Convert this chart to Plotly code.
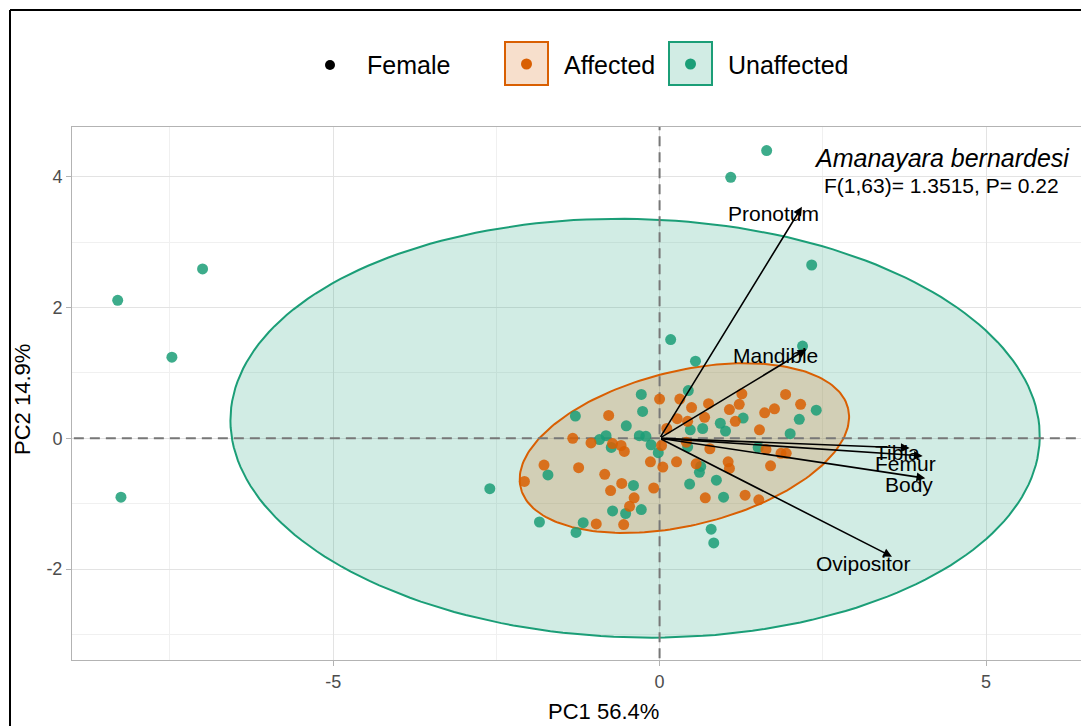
import numpy as np
import plotly.graph_objects as go

# ---------------- data ----------------
affected_x = [0.00, -0.78, -1.33, -1.05, -0.72, -0.59, -0.54, 0.03, -0.14, 0.05,
              -1.77, -1.24, -0.84, -2.07, -0.58, -0.75, -0.09, -0.39, -0.46, -0.97,
              -0.55, 0.31, 0.49, 0.75, 1.26, 1.22, 1.07, 1.16, 1.93, 2.16,
              1.76, 1.61, 1.53, 0.27, 0.43, 0.69, 0.11, 0.41, 0.77, 1.63,
              1.86, 1.94, 0.26, 0.56, 1.05, 1.07, 1.70, 0.70, 1.31, 1.52]
affected_y = [0.60, 0.35, 0.00, -0.07, -0.08, -0.11, -0.20, -0.11, -0.36, -0.44,
              -0.41, -0.45, -0.55, -0.66, -0.69, -0.80, -0.76, -0.91, -1.04, -1.31,
              -1.32, 0.60, 0.47, 0.53, 0.68, 0.52, 0.44, 0.26, 0.67, 0.52,
              0.45, 0.39, 0.13, 0.30, 0.26, 0.32, 0.15, -0.06, -0.16, -0.17,
              -0.23, -0.23, -0.36, -0.39, -0.36, -0.46, -0.42, -0.91, -0.87, -0.94]

unaffected_x = [-8.30, -7.00, -7.47, -8.25, -2.60, 1.09, 1.64, 2.33, 0.17, 0.55,
                2.19, 0.79, 0.83, -1.84, -1.28, -1.17, -0.28, -1.29, -0.26, -0.51,
                -0.92, -0.82, -0.74, -0.31, -0.21, -0.13, -0.02, -1.71, -0.40, -0.28,
                -0.72, -0.52, 0.44, 1.28, 2.40, 2.14, 0.93, 1.01, 0.66, 0.47,
                2.00, 0.43, 1.51, 0.63, 0.61, 0.46, 0.87, 0.98]
unaffected_y = [2.11, 2.59, 1.24, -0.90, -0.77, 3.99, 4.40, 2.65, 1.51, 1.18,
                1.41, -1.39, -1.60, -1.28, -1.44, -1.29, 0.67, 0.34, 0.41, 0.19,
                -0.02, 0.04, -0.14, 0.04, 0.03, -0.10, -0.22, -0.56, -0.72, -1.09,
                -1.11, -1.15, 0.73, 0.31, 0.43, 0.29, 0.23, 0.11, 0.15, 0.13,
                0.07, -0.13, -0.14, -0.43, -0.52, -0.70, -0.64, -0.90]

# variable loadings (arrow tips) and label positions
var_names = ["Pronotum", "Mandible", "Tibia", "Femur", "Body", "Ovipositor"]
var_x = [2.18, 2.25, 3.83, 4.03, 4.07, 3.56]
var_y = [3.54, 1.36, -0.15, -0.27, -0.61, -1.81]
label_x = [1.74, 1.78, 3.64, 3.76, 3.82, 3.12]
label_y = [3.44, 1.27, -0.22, -0.38, -0.70, -1.91]

# confidence ellipses: centre x, centre y, semi-axis a, semi-axis b, angle (deg)
ellipse_unaffected = [-0.375, 0.155, 6.20, 3.20, -1.5]
ellipse_affected = [0.38, -0.15, 2.58, 1.18, 13.6]

group_names = ["Affected", "Unaffected"]
x_ticks = [-5, 0, 5]
y_ticks = [-2, 0, 2, 4]
x_minor = [-7.5, -2.5, 2.5]
y_minor = [-3, -1, 1, 3]

species = "Amanayara bernardesi"
stats_text = "F(1,63)= 1.3515, P= 0.22"
x_title = "PC1 56.4%"
y_title = "PC2 14.9%"

# ---------------- style ----------------
GREEN = "#1B9E77"
ORANGE = "#D95F02"
FONT = "Liberation Sans, Arial, sans-serif"


def ellipse_path(p, n=200):
    cx, cy, a, b, ang = p
    t = np.linspace(0, 2 * np.pi, n)
    th = np.deg2rad(ang)
    x = cx + a * np.cos(t) * np.cos(th) - b * np.sin(t) * np.sin(th)
    y = cy + a * np.cos(t) * np.sin(th) + b * np.sin(t) * np.cos(th)
    return x, y


fig = go.Figure()

ex, ey = ellipse_path(ellipse_unaffected)
fig.add_trace(go.Scatter(x=ex, y=ey, mode="lines", fill="toself",
                         fillcolor="rgba(27,158,119,0.2)",
                         line=dict(color=GREEN, width=2), hoverinfo="skip",
                         showlegend=False))
ex, ey = ellipse_path(ellipse_affected)
fig.add_trace(go.Scatter(x=ex, y=ey, mode="lines", fill="toself",
                         fillcolor="rgba(217,95,2,0.2)",
                         line=dict(color=ORANGE, width=2), hoverinfo="skip",
                         showlegend=False))

# reference lines at 0
fig.add_trace(go.Scatter(x=[-20, 20], y=[0, 0], mode="lines",
                         line=dict(color="#777777", width=2, dash="10px,6px"),
                         hoverinfo="skip", showlegend=False))
fig.add_trace(go.Scatter(x=[0, 0], y=[-20, 20], mode="lines",
                         line=dict(color="#777777", width=2, dash="10px,6px"),
                         hoverinfo="skip", showlegend=False))

fig.add_trace(go.Scatter(x=unaffected_x, y=unaffected_y, mode="markers",
                         name=group_names[1],
                         marker=dict(color=GREEN, size=11, opacity=0.85,
                                     line=dict(width=0)),
                         showlegend=False))
fig.add_trace(go.Scatter(x=affected_x, y=affected_y, mode="markers",
                         name=group_names[0],
                         marker=dict(color=ORANGE, size=11, opacity=0.85,
                                     line=dict(width=0)),
                         showlegend=False))

annotations = []
for nm, vx, vy, lx, ly in zip(var_names, var_x, var_y, label_x, label_y):
    annotations.append(dict(x=vx, y=vy, ax=0, ay=0, xref="x", yref="y",
                            axref="x", ayref="y", text="", showarrow=True,
                            arrowhead=2, arrowsize=1.1, arrowwidth=1.6,
                            arrowcolor="black"))
    annotations.append(dict(x=lx, y=ly, xref="x", yref="y", text=nm,
                            showarrow=False, font=dict(family=FONT, size=21,
                                                       color="black")))

annotations.append(dict(x=4.32, y=4.29, xref="x", yref="y",
                        text="<i>" + species + "</i>", showarrow=False,
                        font=dict(family=FONT, size=25, color="black")))
annotations.append(dict(x=4.32, y=3.87, xref="x", yref="y", text=stats_text,
                        showarrow=False,
                        font=dict(family=FONT, size=21, color="black")))

# ---------------- manual legend / titles (paper coords) ----------------
L, T, W, H = 72, 127, 1009, 533


def px(xp):
    return (xp - L) / W


def py(yp):
    return (T + H - yp) / H


annotations.append(dict(x=px(603), y=py(711), xref="paper", yref="paper",
                        text=x_title, showarrow=False, xanchor="center",
                        yanchor="middle",
                        font=dict(family=FONT, size=22, color="black")))
annotations.append(dict(x=px(22), y=py(400), xref="paper", yref="paper",
                        text=y_title, showarrow=False, textangle=-90,
                        xanchor="center", yanchor="middle",
                        font=dict(family=FONT, size=22, color="black")))

shapes = []
# outer black frame (left + top)
shapes.append(dict(type="line", xref="paper", yref="paper", x0=px(10), x1=px(10),
                   y0=py(740), y1=py(10), line=dict(color="black", width=2)))
shapes.append(dict(type="line", xref="paper", yref="paper", x0=px(10), x1=px(1100),
                   y0=py(10), y1=py(10), line=dict(color="black", width=2)))

# Female dot
shapes.append(dict(type="circle", xref="paper", yref="paper", xsizemode="pixel",
                   ysizemode="pixel", xanchor=px(330), yanchor=py(65),
                   x0=-5, x1=5, y0=-5, y1=5, fillcolor="black",
                   line=dict(width=0)))
annotations.append(dict(x=px(365), y=py(65), xref="paper", yref="paper",
                        text="Female", showarrow=False, xanchor="left",
                        yanchor="middle", font=dict(family=FONT, size=25,
                                                    color="black")))
legend_items = [(group_names[0], ORANGE, "rgba(217,95,2,0.2)", 505, 562),
                (group_names[1], GREEN, "rgba(27,158,119,0.2)", 669, 726)]
for nm, col, fcol, bx, tx in legend_items:
    shapes.append(dict(type="rect", xref="paper", yref="paper",
                       x0=px(bx), x1=px(bx + 43), y0=py(85), y1=py(42),
                       fillcolor=fcol, line=dict(color=col, width=2)))
    shapes.append(dict(type="circle", xref="paper", yref="paper",
                       xsizemode="pixel", ysizemode="pixel",
                       xanchor=px(bx + 21.5), yanchor=py(64),
                       x0=-5.5, x1=5.5, y0=-5.5, y1=5.5, fillcolor=col,
                       line=dict(width=0)))
    annotations.append(dict(x=px(tx), y=py(65), xref="paper", yref="paper",
                            text=nm, showarrow=False, xanchor="left",
                            yanchor="middle", font=dict(family=FONT, size=25,
                                                        color="black")))

fig.update_layout(
    width=1081, height=726,
    margin=dict(l=L, r=0, t=T, b=726 - T - H, pad=0),
    paper_bgcolor="white", plot_bgcolor="white",
    showlegend=False,
    font=dict(family=FONT),
    annotations=annotations,
    shapes=shapes,
    xaxis=dict(range=[-9.0, 6.455], tickvals=x_ticks,
               ticktext=[str(v) for v in x_ticks],
               showgrid=True, gridcolor="#e3e3e3", gridwidth=1,
               minor=dict(tickvals=x_minor, showgrid=True, gridcolor="#f0f0f0",
                          gridwidth=1, ticks=""),
               zeroline=False, showline=True, mirror=True, linecolor="#b3b3b3",
               linewidth=1, ticks="outside", ticklen=5, tickcolor="#b3b3b3",
               tickfont=dict(family=FONT, size=18, color="#4d4d4d")),
    yaxis=dict(range=[-3.39, 4.76], tickvals=y_ticks,
               ticktext=[str(v) for v in y_ticks],
               showgrid=True, gridcolor="#e3e3e3", gridwidth=1,
               minor=dict(tickvals=y_minor, showgrid=True, gridcolor="#f0f0f0",
                          gridwidth=1, ticks=""),
               zeroline=False, showline=True, mirror=False, linecolor="#b3b3b3",
               linewidth=1, ticks="outside", ticklen=5, tickcolor="#b3b3b3",
               tickfont=dict(family=FONT, size=18, color="#4d4d4d")),
)

fig.write_html("out.html")
